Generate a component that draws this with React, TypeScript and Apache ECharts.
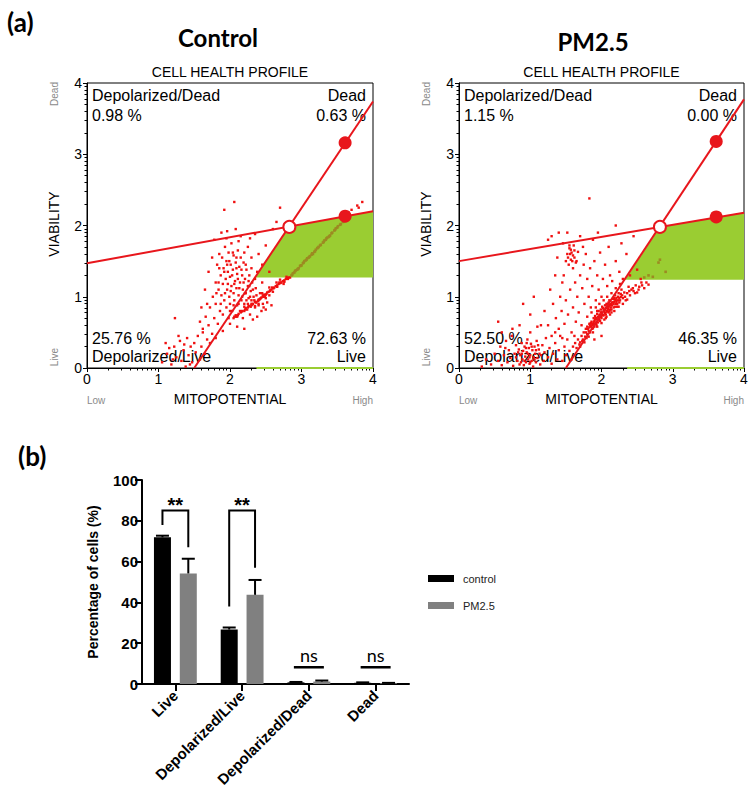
import React, { useEffect, useRef } from 'react';
import * as echarts from 'echarts';

const FONT = "'Liberation Sans', Arial, sans-serif";
const TITLE_FONT = "Lato, 'Liberation Sans', sans-serif";
const RED = '#e8161c';
const PT_RED = '#f01010';
const OLIVE = '#9c8a22';
const GREEN = '#9acd32';

// ---------- panel (a) texts ----------
const panelTitles = ['Control', 'PM2.5'];
const profileTitle = 'CELL HEALTH PROFILE';
const quadrantNames = ['Depolarized/Dead', 'Dead', 'Depolarized/Live', 'Live'];
const ctrlPercents = ['0.98 %', '0.63 %', '25.76 %', '72.63 %'];
const pmPercents = ['1.15 %', '0.00 %', '52.50 %', '46.35 %'];
const xAxisName = 'MITOPOTENTIAL';
const yAxisName = 'VIABILITY';
const xEnds = ['Low', 'High'];
const yEnds = ['Live', 'Dead'];
const logFractions = [0.301, 0.477, 0.602, 0.699, 0.778, 0.845, 0.903, 0.954];
const decades = [0, 1, 2, 3];

// ---------- gates ----------
const ctrlHoriz = [[0, 1.47], [4, 2.2]];
const ctrlSteep = [[1.5, 0], [4, 3.74]];
const ctrlOpen = [[2.83, 1.98]];
const ctrlFilled = [[3.61, 3.16], [3.61, 2.13]];
const ctrlGreen = [[2.35, 1.27], [4, 1.27], [4, 2.2], [2.83, 1.986]];
const ctrlGreenBase = [[2.37, 0], [4, 0]];

const pmHoriz = [[0, 1.5], [4, 2.18]];
const pmSteep = [[1.5, 0], [4, 3.77]];
const pmOpen = [[2.82, 1.98]];
const pmFilled = [[3.61, 3.18], [3.61, 2.12]];
const pmGreen = [[2.33, 1.24], [4, 1.24], [4, 2.18], [2.82, 1.98]];
const pmGreenBase = [[2.36, 0], [4, 0]];

// ---------- events (hand-read estimates) ----------
const ctrlTail = [[1.05,0.08],[1.12,0.2],[1.18,0.05],[1.22,0.3],[1.25,0.15],[1.3,0.38],[1.32,0.1],[1.35,0.25],[1.38,0.02],[1.4,0.42],[1.42,0.18],[1.45,0.3],[1.47,0.08],[1.5,0.35],[1.52,0.22],[1.55,0.45],[1.58,0.12],[1.6,0.3],[1.62,0.5],[1.65,0.2],[1.68,0.4],[1.1,0.35],[1.2,0.12],[1.28,0.45],[1.36,0.33],[1.44,0.05],[1.23,0.7],[1.15,0.28]];
const ctrlCloud = [[1.62,0.55],[1.66,0.72],[1.7,0.6],[1.72,0.85],[1.75,0.48],[1.76,1.0],[1.78,0.7],[1.8,1.2],[1.8,0.9],[1.82,1.45],[1.83,0.62],[1.84,1.1],[1.85,1.6],[1.86,0.8],[1.87,1.3],[1.88,1.02],[1.89,1.55],[1.9,0.75],[1.9,1.18],[1.91,1.4],[1.92,0.95],[1.93,1.7],[1.94,1.25],[1.95,0.85],[1.95,1.5],[1.96,1.1],[1.97,1.35],[1.98,0.7],[1.98,1.62],[1.99,1.0],[2.0,1.28],[2.0,0.9],[2.01,1.45],[2.02,1.15],[2.02,1.75],[2.03,0.8],[2.04,1.38],[2.05,1.05],[2.05,1.58],[2.06,0.95],[2.07,1.22],[2.08,1.48],[2.08,0.72],[2.09,1.12],[2.1,1.32],[2.1,0.88],[2.11,1.65],[2.12,1.02],[2.13,1.42],[2.14,0.8],[2.14,1.2],[2.15,1.55],[2.16,0.95],[2.17,1.3],[2.18,1.1],[2.18,0.7],[2.19,1.48],[2.2,0.9],[2.21,1.25],[2.22,1.05],[2.23,1.38],[2.24,0.82],[2.25,1.15],[2.26,0.98],[2.27,1.3],[2.28,0.75],[2.29,1.08],[2.3,0.9],[2.31,1.2],[2.32,0.68],[2.33,1.0],[2.35,0.85],[2.36,1.12],[2.38,0.72],[2.4,0.95],[2.42,1.05],[2.44,0.8],[2.46,0.9],[2.48,1.0],[2.5,0.82],[2.52,0.92],[2.55,1.02],[2.58,0.88],[1.7,1.35],[1.75,1.55],[1.78,1.8],[1.88,1.9],[1.92,2.22],[2.06,2.33],[2.15,1.85],[2.25,1.7],[2.3,1.55],[2.35,1.88],[2.4,1.6],[2.45,1.45],[2.5,1.72],[2.55,1.35],[2.6,1.95],[2.65,2.05],[2.7,2.25],[2.45,1.2],[2.38,1.35],[2.2,1.62],[2.12,1.78],[1.95,1.82],[1.85,1.4],[1.6,0.85],[1.58,0.65],[1.65,1.1],[1.68,0.9],[2.0,0.62],[2.1,0.58],[1.9,0.52],[2.2,0.55],[1.8,0.42],[1.72,0.35],[1.96,1.92],[2.08,1.95],[2.28,1.82],[3.7,2.22],[3.78,2.28],[3.85,2.33],[3.66,2.18],[3.8,2.25],[1.93,1.05],[1.97,1.18],[2.01,1.08],[2.03,1.3],[2.06,1.18],[2.09,1.4],[2.11,1.25],[2.13,1.12],[2.16,1.38],[2.19,1.2],[2.21,1.05],[2.23,0.95],[2.26,1.22],[2.28,1.0],[2.32,1.1],[2.34,0.95],[2.37,1.02],[2.4,0.88],[2.43,0.98],[2.47,0.85],[1.99,1.5],[2.04,1.62],[2.09,1.55],[1.92,1.35],[1.96,1.45],[2.12,0.9],[2.17,1.0],[2.22,1.45],[2.27,1.15],[2.3,1.4],[2.35,1.25],[2.0,0.8],[2.05,0.88],[1.87,0.9],[1.84,1.2],[1.81,1.05]];
const ctrlBand = [[2.05,0.7],[2.08,0.74],[2.1,0.72],[2.12,0.76],[2.15,0.78],[2.17,0.8],[2.2,0.8],[2.22,0.84],[2.25,0.85],[2.27,0.87],[2.3,0.88],[2.32,0.9],[2.35,0.93],[2.37,0.92],[2.4,0.96],[2.42,0.97],[2.44,0.99],[2.46,1.0],[2.48,1.03],[2.5,1.03],[2.52,1.06],[2.54,1.07],[2.56,1.09],[2.58,1.1],[2.6,1.12],[2.62,1.13],[2.64,1.15],[2.66,1.16],[2.68,1.18],[2.7,1.19],[2.72,1.2],[2.74,1.22],[2.76,1.23],[2.78,1.25],[2.8,1.26],[2.82,1.27],[2.3,0.95],[2.4,0.9],[2.5,0.98],[2.6,1.07],[2.7,1.24],[2.45,1.05],[2.55,1.13],[2.65,1.2],[2.35,0.87],[2.25,0.9],[2.75,1.18],[2.2,0.86],[2.06,0.72],[2.11,0.74],[2.16,0.79],[2.21,0.82],[2.26,0.87],[2.31,0.89],[2.36,0.92],[2.41,0.96],[2.46,1.02],[2.51,1.04],[2.56,1.08],[2.61,1.12],[2.66,1.14],[2.71,1.2],[2.76,1.21],[2.81,1.25],[2.84,1.27],[2.79,1.28],[2.69,1.2],[2.59,1.13],[2.49,1.01],[2.39,0.94],[2.29,0.86]];
const ctrlOlive = [[2.86,1.3],[2.9,1.34],[2.94,1.38],[2.98,1.43],[3.02,1.47],[3.06,1.51],[3.1,1.55],[3.14,1.59],[3.18,1.63],[3.22,1.68],[3.26,1.72],[3.3,1.76],[3.34,1.8],[3.38,1.84],[3.42,1.89],[3.46,1.93],[3.5,1.97],[3.54,2.01],[3.58,2.05],[2.92,1.37],[3.0,1.44],[3.08,1.54],[3.16,1.6],[3.24,1.7],[3.32,1.79],[3.4,1.86],[3.48,1.96],[2.88,1.33],[2.96,1.4],[3.12,1.57],[2.87,1.31],[2.91,1.36],[2.95,1.39],[2.99,1.44],[3.03,1.48],[3.07,1.52],[3.11,1.56],[3.15,1.61],[3.19,1.64],[3.23,1.69],[3.27,1.73],[3.31,1.77],[3.35,1.82],[3.39,1.85],[3.43,1.9],[3.47,1.94],[3.51,1.99],[3.55,2.02],[3.59,2.06],[3.04,1.5],[3.2,1.66],[3.36,1.83]];

const pmBand = [[1.6,0.3],[1.63,0.35],[1.65,0.28],[1.67,0.4],[1.7,0.36],[1.72,0.45],[1.74,0.4],[1.75,0.5],[1.77,0.44],[1.78,0.55],[1.8,0.48],[1.8,0.58],[1.82,0.52],[1.83,0.62],[1.84,0.5],[1.85,0.58],[1.86,0.65],[1.87,0.55],[1.88,0.62],[1.89,0.7],[1.9,0.58],[1.9,0.66],[1.91,0.73],[1.92,0.62],[1.93,0.69],[1.94,0.76],[1.95,0.64],[1.95,0.72],[1.96,0.8],[1.97,0.68],[1.98,0.75],[1.99,0.82],[2.0,0.7],[2.0,0.78],[2.01,0.86],[2.02,0.74],[2.03,0.81],[2.04,0.68],[2.05,0.77],[2.05,0.88],[2.06,0.84],[2.07,0.72],[2.08,0.8],[2.09,0.9],[2.1,0.78],[2.1,0.86],[2.11,0.95],[2.12,0.82],[2.13,0.9],[2.14,0.78],[2.15,0.88],[2.16,0.97],[2.17,0.85],[2.18,0.93],[2.19,1.02],[2.2,0.9],[2.21,0.98],[2.22,0.86],[2.23,0.95],[2.24,1.05],[2.25,0.92],[2.27,1.0],[2.28,1.1],[2.3,0.98],[2.32,1.06],[2.34,0.95],[2.36,1.05],[2.38,1.14],[2.4,1.02],[2.42,1.1],[2.45,1.08],[2.48,1.16],[2.5,1.06],[2.53,1.14],[2.56,1.2],[2.6,1.12],[2.63,1.2],[2.66,1.17],[1.7,0.3],[1.76,0.36],[1.82,0.44],[1.88,0.5],[1.94,0.58],[2.0,0.63],[2.06,0.7],[2.12,0.75],[2.18,0.8],[2.24,0.86],[2.3,0.9],[2.36,0.96],[1.97,0.9],[2.03,0.95],[2.08,1.0],[2.14,1.05],[2.2,1.12],[2.26,1.18],[1.86,0.78],[1.92,0.85],[1.81,0.55],[1.83,0.57],[1.85,0.63],[1.87,0.6],[1.89,0.64],[1.91,0.68],[1.93,0.64],[1.95,0.68],[1.97,0.74],[1.99,0.72],[2.01,0.76],[2.03,0.74],[2.05,0.82],[2.07,0.79],[2.09,0.83],[2.11,0.88],[2.13,0.85],[2.15,0.92],[2.17,0.9],[2.19,0.96],[2.21,0.93],[2.23,1.0],[2.25,0.98],[2.27,1.04],[2.29,1.02],[1.88,0.56],[1.92,0.7],[1.96,0.7],[2.0,0.74],[2.04,0.8],[2.08,0.86],[2.12,0.88],[2.16,0.92],[2.2,0.95],[1.84,0.6],[1.9,0.62],[1.98,0.66],[2.06,0.75],[2.14,0.82],[2.22,0.9],[1.78,0.5],[1.79,0.42],[1.73,0.38],[1.69,0.33],[1.94,0.8],[2.02,0.84],[2.1,0.92],[2.18,0.98],[2.26,0.95],[2.33,1.0],[2.39,1.08],[2.44,1.12],[2.47,1.05],[2.52,1.1],[2.57,1.16],[1.99,0.78],[2.07,0.9],[1.93,0.6],[2.11,0.8],[2.19,0.86]];
const pmLowLeft = [[0.32,0.02],[0.38,0.12],[0.45,0.05],[0.5,0.2],[0.55,0.1],[0.58,0.3],[0.6,0.04],[0.63,0.18],[0.66,0.38],[0.68,0.08],[0.7,0.25],[0.72,0.14],[0.74,0.45],[0.76,0.03],[0.78,0.2],[0.8,0.32],[0.82,0.1],[0.84,0.26],[0.85,0.05],[0.86,0.18],[0.88,0.35],[0.89,0.12],[0.9,0.24],[0.91,0.04],[0.92,0.3],[0.93,0.16],[0.94,0.08],[0.95,0.22],[0.96,0.4],[0.97,0.12],[0.98,0.28],[0.99,0.06],[1.0,0.18],[1.01,0.34],[1.02,0.1],[1.03,0.25],[1.04,0.02],[1.05,0.15],[1.06,0.3],[1.07,0.2],[1.08,0.08],[1.09,0.38],[1.1,0.14],[1.12,0.26],[1.14,0.05],[1.15,0.18],[1.17,0.32],[1.19,0.1],[1.2,0.22],[1.22,0.42],[1.25,0.15],[1.27,0.28],[1.3,0.06],[1.32,0.2],[1.35,0.35],[1.38,0.12],[1.4,0.25],[1.42,0.45],[1.45,0.1],[1.48,0.3],[1.5,0.18],[1.52,0.4],[1.55,0.24],[1.58,0.12],[0.55,0.65],[0.6,0.5],[0.75,0.55],[0.85,0.6],[1.0,0.5],[1.1,0.58],[0.65,0.28],[0.8,0.15],[0.95,0.35],[0.88,0.2],[0.92,0.1],[0.97,0.2],[1.02,0.3],[1.06,0.12],[1.0,0.08],[0.94,0.28],[1.08,0.25],[1.13,0.2],[0.83,0.22],[0.87,0.08],[1.11,0.32],[0.99,0.15]];
const pmCloud = [[1.2,0.8],[1.25,0.6],[1.28,1.1],[1.3,0.45],[1.32,0.9],[1.35,1.3],[1.36,0.7],[1.38,1.55],[1.4,0.55],[1.42,1.0],[1.44,0.8],[1.45,1.2],[1.46,1.75],[1.48,0.62],[1.5,1.5],[1.5,0.95],[1.52,1.6],[1.53,0.75],[1.54,1.45],[1.55,1.68],[1.56,1.1],[1.57,1.52],[1.58,0.5],[1.58,1.62],[1.6,1.4],[1.6,0.85],[1.61,1.72],[1.62,1.55],[1.63,1.2],[1.64,0.65],[1.65,1.5],[1.66,1.0],[1.67,1.63],[1.68,0.78],[1.7,1.3],[1.7,1.85],[1.72,0.6],[1.73,1.12],[1.75,1.45],[1.76,0.9],[1.78,1.6],[1.8,0.72],[1.8,1.25],[1.82,1.0],[1.84,1.4],[1.85,0.85],[1.87,1.15],[1.9,1.5],[1.92,0.95],[1.94,1.3],[1.96,1.1],[1.98,1.62],[2.0,1.0],[2.02,1.25],[2.05,1.45],[2.08,1.15],[2.1,1.7],[2.12,1.3],[2.15,1.22],[2.2,1.5],[2.25,1.35],[2.3,1.25],[2.35,1.6],[2.4,1.3],[2.45,1.85],[2.5,1.38],[2.55,1.25],[1.83,2.38],[1.3,1.85],[1.4,1.9],[2.2,2.0],[1.95,1.9],[1.25,1.8],[1.47,1.3],[1.35,0.5],[1.9,0.4],[2.0,0.45],[1.45,0.42],[1.62,0.45],[1.15,0.6],[1.88,1.8],[2.28,1.75],[1.74,1.7],[1.52,1.9],[1.0,0.75],[0.9,0.9],[1.05,1.0],[1.53,1.55],[1.56,1.6],[1.59,1.5],[1.62,1.65],[1.55,1.72],[1.6,1.58],[1.64,1.48],[1.57,1.66]];
const pmOlive = [[2.6,1.27],[2.66,1.3],[2.72,1.28],[2.82,1.52],[2.8,1.48],[2.9,1.35]];

// ---------- panel (b) ----------
const categories = ['Live', 'Depolarized/Live', 'Depolarized/Dead', 'Dead'];
const seriesNames = ['control', 'PM2.5'];
const controlMean = [71.9, 26.7, 0.8, 0.6];
const controlErr = [0.8, 1.0, 0.2, 0.2];
const pmMean = [54.2, 43.7, 1.2, 0.35];
const pmErr = [7.2, 7.3, 0.5, 0.2];
const sigCats = [0, 1];
const sigLeft = [78, 38];
const sigRight = [67, 57];
const sigTop = [85, 85];
const sigLabels = ['**', '**'];
const nsCats = [2, 3];
const nsY = [8.2, 8.2];
const nsLabels = ['ns', 'ns'];
const yNameB = 'Percentage of cells (%)';

const BAR_W = 17;
const BAR_OFF = 12.92;

const minorTicks = decades.flatMap((d) => logFractions.map((f) => d + f));

function scatterAxes(gridIndex: number) {
  const main = {
    type: 'value', gridIndex, min: 0, max: 4, interval: 1,
    axisLine: { show: true, onZero: false, lineStyle: { color: '#000', width: 1 } },
    axisTick: { show: true, length: 4, lineStyle: { color: '#000', width: 1 } },
    splitLine: { show: false },
  };
  const minor = {
    type: 'value', gridIndex, min: 0, max: 4,
    axisLine: { show: false, onZero: false },
    axisLabel: { show: false },
    splitLine: { show: false },
    axisTick: { show: true, length: 2.5, customValues: minorTicks, lineStyle: { color: '#000', width: 1 } },
  };
  return {
    x: [
      { ...main, position: 'bottom', axisLabel: { fontSize: 14, fontFamily: FONT, color: '#000', margin: 4 } },
      { ...minor, position: 'bottom' },
    ],
    y: [
      { ...main, position: 'left', axisLabel: { fontSize: 14, fontFamily: FONT, color: '#000', margin: 5 } },
      { ...minor, position: 'left' },
    ],
  };
}

function panelSeries(xi: number, d: any) {
  const base = { xAxisIndex: xi, yAxisIndex: xi };
  return [
    {
      ...base, type: 'custom', z: 1, silent: true, clip: false, data: [[0, 0]],
      renderItem: (_p: any, api: any) => ({
        type: 'polygon',
        shape: { points: d.green.map((p: number[]) => api.coord(p)) },
        style: { fill: GREEN },
      }),
    },
    {
      ...base, type: 'line', z: 2, data: d.greenBase, symbol: 'none', silent: true,
      lineStyle: { color: GREEN, width: 2 },
    },
    ...d.red.map((arr: number[][]) => ({
      ...base, type: 'scatter', z: 3, data: arr, symbol: 'rect', symbolSize: 2.4, silent: true,
      itemStyle: { color: PT_RED, opacity: 1 },
    })),
    {
      ...base, type: 'scatter', z: 3, data: d.olive, symbol: 'rect', symbolSize: 2.6, silent: true,
      itemStyle: { color: OLIVE, opacity: 1 },
    },
    {
      ...base, type: 'line', z: 4, data: d.horiz, symbol: 'none', silent: true,
      lineStyle: { color: RED, width: 2 },
    },
    {
      ...base, type: 'line', z: 4, data: d.steep, symbol: 'none', silent: true,
      lineStyle: { color: RED, width: 2 },
    },
    {
      ...base, type: 'scatter', z: 5, data: d.filled, symbolSize: 13, silent: true,
      itemStyle: { color: RED, opacity: 1 },
    },
    {
      ...base, type: 'scatter', z: 5, data: d.open, symbolSize: 12, silent: true,
      itemStyle: { color: '#fff', borderColor: RED, borderWidth: 2, opacity: 1 },
    },
  ];
}

function txt(text: string, x: number, y: number, opts: any = {}) {
  const { size = 16, align = 'left', color = '#000', weight = 'normal', family = FONT, rotation = 0 } = opts;
  return {
    type: 'text', x, y, rotation, silent: true,
    style: {
      text, fill: color,
      font: `${weight} ${size}px ${family}`,
      align, verticalAlign: 'middle', textAlign: align, textVerticalAlign: 'middle',
    },
  };
}

function panelTexts(L: number, T: number, R: number, B: number, title: string, tx: number, ty: number, perc: string[]) {
  const cx = (L + R) / 2;
  return [
    txt(title, tx, ty, { size: 24, weight: 'bold', family: TITLE_FONT, align: 'center' }),
    txt(profileTitle, cx, T - 11, { size: 14, align: 'center' }),
    txt(quadrantNames[0], L + 5, T + 12),
    txt(perc[0], L + 5, T + 32),
    txt(quadrantNames[1], R - 7, T + 12, { align: 'right' }),
    txt(perc[1], R - 7, T + 32, { align: 'right' }),
    txt(perc[2], L + 5, B - 30),
    txt(quadrantNames[2], L + 5, B - 11.5),
    txt(perc[3], R - 7, B - 30, { align: 'right' }),
    txt(quadrantNames[3], R - 7, B - 11.5, { align: 'right' }),
    txt(yAxisName, L - 33, (T + B) / 2 - 1.5, { size: 14, align: 'center', rotation: Math.PI / 2 }),
    txt(yEnds[1], L - 33, T + 11, { size: 10, align: 'center', color: '#8a8a8a', rotation: Math.PI / 2 }),
    txt(yEnds[0], L - 33, B - 11, { size: 10, align: 'center', color: '#8a8a8a', rotation: Math.PI / 2 }),
    txt(xEnds[0], L, B + 32, { size: 10, color: '#8a8a8a' }),
    txt(xAxisName, cx, B + 31, { size: 14, align: 'center' }),
    txt(xEnds[1], R, B + 32, { size: 10, align: 'right', color: '#8a8a8a' }),
  ];
}

export default function App() {
  const ref = useRef<HTMLDivElement>(null);

  useEffect(() => {
    document.body.style.margin = '0';
    if (!ref.current) return;
    const chart = echarts.init(ref.current, null, { renderer: 'svg' });

    const a0 = scatterAxes(0);
    const a1 = scatterAxes(1);

    const ctrl = { green: ctrlGreen, greenBase: ctrlGreenBase, red: [ctrlTail, ctrlCloud, ctrlBand], olive: ctrlOlive, horiz: ctrlHoriz, steep: ctrlSteep, filled: ctrlFilled, open: ctrlOpen };
    const pm = { green: pmGreen, greenBase: pmGreenBase, red: [pmLowLeft, pmCloud, pmBand], olive: pmOlive, horiz: pmHoriz, steep: pmSteep, filled: pmFilled, open: pmOpen };

    const boldB = { fontFamily: FONT, fontWeight: 'bold', fontSize: 15, color: '#000' };

    const errRender = (off: number) => (_p: any, api: any) => {
      const c = api.value(0);
      const p0 = api.coord([c, api.value(1)]);
      const p1 = api.coord([c, api.value(1) + api.value(2)]);
      const x = p0[0] + off;
      const st = { stroke: '#000', lineWidth: 2 };
      return {
        type: 'group',
        children: [
          { type: 'line', shape: { x1: x, y1: p0[1], x2: x, y2: p1[1] }, style: st },
          { type: 'line', shape: { x1: x - 6.5, y1: p1[1], x2: x + 6.5, y2: p1[1] }, style: st },
        ],
      };
    };

    const option: any = {
      animation: false,
      backgroundColor: '#fff',
      grid: [
        { left: 87, top: 83, width: 286, height: 285, show: true, borderColor: '#000', borderWidth: 1, backgroundColor: 'transparent' },
        { left: 459, top: 83, width: 285, height: 285, show: true, borderColor: '#000', borderWidth: 1, backgroundColor: 'transparent' },
        { left: 142, top: 480, width: 267, height: 204 },
      ],
      xAxis: [
        ...a0.x, ...a1.x,
        {
          type: 'category', gridIndex: 2, data: categories,
          axisLine: { show: true, lineStyle: { color: '#000', width: 2 } },
          axisTick: { show: true, alignWithLabel: true, length: 7, lineStyle: { color: '#000', width: 2 } },
          axisLabel: { ...boldB, rotate: 45, margin: 9, interval: 0 },
          splitLine: { show: false },
        },
      ],
      yAxis: [
        ...a0.y, ...a1.y,
        {
          type: 'value', gridIndex: 2, min: 0, max: 100, interval: 20,
          name: yNameB, nameLocation: 'middle', nameGap: 42,
          nameTextStyle: { fontFamily: FONT, fontWeight: 'bold', fontSize: 14, color: '#000' },
          axisLine: { show: true, lineStyle: { color: '#000', width: 2 } },
          axisTick: { show: true, length: 7, lineStyle: { color: '#000', width: 2 } },
          axisLabel: { ...boldB, margin: 4 },
          splitLine: { show: false },
        },
      ],
      legend: {
        data: seriesNames, orient: 'vertical', left: 423, top: 568,
        itemWidth: 26, itemHeight: 7, itemGap: 16, icon: 'rect',
        textStyle: { fontFamily: FONT, fontSize: 11, color: '#222', padding: [0, 0, 0, 4] },
        selectedMode: false,
      },
      series: [
        ...panelSeries(0, ctrl),
        ...panelSeries(2, pm),
        {
          name: seriesNames[0], type: 'bar', xAxisIndex: 4, yAxisIndex: 4, data: controlMean,
          barWidth: BAR_W, barGap: '52%', itemStyle: { color: '#000' }, z: 2,
        },
        {
          name: seriesNames[1], type: 'bar', xAxisIndex: 4, yAxisIndex: 4, data: pmMean,
          barWidth: BAR_W, barGap: '52%', itemStyle: { color: '#808080' }, z: 2,
        },
        {
          type: 'custom', xAxisIndex: 4, yAxisIndex: 4, z: 3, silent: true,
          data: controlMean.map((v, i) => [i, v, controlErr[i]]),
          renderItem: errRender(-BAR_OFF),
        },
        {
          type: 'custom', xAxisIndex: 4, yAxisIndex: 4, z: 3, silent: true,
          data: pmMean.map((v, i) => [i, v, pmErr[i]]),
          renderItem: errRender(BAR_OFF),
        },
        {
          type: 'custom', xAxisIndex: 4, yAxisIndex: 4, z: 3, silent: true, clip: false,
          data: sigCats.map((c, i) => [c, sigLeft[i], sigRight[i], sigTop[i]]),
          renderItem: (p: any, api: any) => {
            const c = api.value(0);
            const pl = api.coord([c, api.value(1)]);
            const pr = api.coord([c, api.value(2)]);
            const pt = api.coord([c, api.value(3)]);
            const xl = pl[0] - BAR_OFF;
            const xr = pl[0] + BAR_OFF;
            return {
              type: 'group',
              children: [
                {
                  type: 'polyline',
                  shape: { points: [[xl, pl[1]], [xl, pt[1]], [xr, pt[1]], [xr, pr[1]]] },
                  style: { stroke: '#000', lineWidth: 2, fill: null },
                },
                {
                  type: 'text',
                  style: {
                    text: sigLabels[p.dataIndex], x: pl[0], y: pt[1] - 6,
                    font: `bold 20px ${FONT}`, fill: '#000',
                    align: 'center', verticalAlign: 'middle', textAlign: 'center', textVerticalAlign: 'middle',
                  },
                },
              ],
            };
          },
        },
        {
          type: 'custom', xAxisIndex: 4, yAxisIndex: 4, z: 3, silent: true, clip: false,
          data: nsCats.map((c, i) => [c, nsY[i]]),
          renderItem: (p: any, api: any) => {
            const pc = api.coord([api.value(0), api.value(1)]);
            return {
              type: 'group',
              children: [
                {
                  type: 'line',
                  shape: { x1: pc[0] - 15, y1: pc[1], x2: pc[0] + 15, y2: pc[1] },
                  style: { stroke: '#000', lineWidth: 2.5 },
                },
                {
                  type: 'text',
                  style: {
                    text: nsLabels[p.dataIndex], x: pc[0], y: pc[1] - 12.5,
                    font: `normal 18px ${TITLE_FONT}`, fill: '#000',
                    align: 'center', verticalAlign: 'middle', textAlign: 'center', textVerticalAlign: 'middle',
                  },
                },
              ],
            };
          },
        },
      ],
      graphic: [
        txt('(a)', 7, 22, { size: 26, weight: 'bold', family: TITLE_FONT }),
        txt('(b)', 18, 456, { size: 26, weight: 'bold', family: TITLE_FONT }),
        ...panelTexts(87, 83, 373, 368, panelTitles[0], 218, 37.5, ctrlPercents),
        ...panelTexts(459, 83, 744, 368, panelTitles[1], 593, 41.7, pmPercents),
      ],
    };

    chart.setOption(option);
    return () => chart.dispose();
  }, []);

  return <div ref={ref} style={{ width: 753, height: 809 }} />;
}
